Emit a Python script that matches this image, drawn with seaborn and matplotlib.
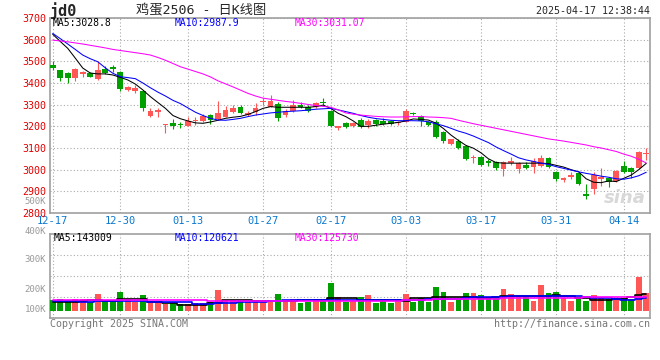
import matplotlib
matplotlib.use("Agg")
import matplotlib.pyplot as plt
import numpy as np
import pandas as pd
import seaborn as sns

# ---------------- data ----------------
tick_idx = [0, 9, 18, 28, 37, 47, 57, 67, 76]
tick_lbl = ["12-17", "12-30", "01-13", "01-27", "02-17", "03-03", "03-17", "03-31", "04-14"]

opens = [3483, 3460, 3448, 3422, 3443, 3448, 3417, 3465, 3475, 3452,
         3368, 3365, 3364, 3248, 3266, 3205, 3217, 3212, 3202, 3224,
         3226, 3250, 3233, 3245, 3268, 3290, 3252, 3265, 3312, 3291,
         3303, 3252, 3272, 3298, 3291, 3288, 3314, 3272, 3194, 3214,
         3202, 3229, 3206, 3229, 3226, 3224, 3215, 3221, 3263, 3248,
         3221, 3221, 3175, 3118, 3134, 3109, 3053, 3060, 3041, 3037,
         3003, 3032, 3003, 3023, 3011, 3017, 3055, 2991, 2952, 2965,
         2984, 2884, 2910, 2958, 2963, 2949, 3017, 3007, 3008, 3073]
closes = [3471, 3422, 3422, 3465, 3446, 3429, 3460, 3445, 3465, 3371,
          3383, 3378, 3283, 3272, 3275, 3208, 3202, 3205, 3226, 3228,
          3248, 3228, 3263, 3276, 3283, 3263, 3260, 3283, 3316, 3318,
          3238, 3272, 3298, 3291, 3272, 3306, 3306, 3202, 3197, 3196,
          3217, 3196, 3226, 3211, 3211, 3211, 3217, 3272, 3256, 3226,
          3206, 3152, 3134, 3140, 3099, 3049, 3055, 3023, 3030, 3007,
          3034, 3040, 3030, 3009, 3040, 3055, 3014, 2956, 2963, 2975,
          2934, 2880, 2975, 2960, 2944, 2995, 2991, 2991, 3080, 3076]
highs = [3502, 3462, 3450, 3468, 3455, 3452, 3502, 3477, 3482, 3457,
         3387, 3392, 3366, 3283, 3283, 3211, 3232, 3222, 3242, 3245,
         3255, 3255, 3317, 3294, 3300, 3298, 3270, 3309, 3330, 3345,
         3310, 3280, 3321, 3314, 3298, 3312, 3329, 3275, 3203, 3220,
         3222, 3240, 3233, 3236, 3240, 3228, 3226, 3279, 3267, 3250,
         3224, 3228, 3178, 3142, 3140, 3113, 3067, 3064, 3050, 3040,
         3040, 3060, 3035, 3034, 3052, 3067, 3058, 2995, 2968, 2990,
         2986, 2935, 2990, 3006, 2968, 3000, 3041, 3012, 3085, 3099]
lows = [3460, 3411, 3401, 3411, 3426, 3426, 3415, 3440, 3451, 3364,
        3362, 3355, 3272, 3242, 3245, 3168, 3186, 3191, 3200, 3206,
        3222, 3212, 3230, 3242, 3262, 3257, 3248, 3254, 3300, 3288,
        3226, 3245, 3268, 3283, 3265, 3283, 3298, 3196, 3183, 3190,
        3198, 3190, 3190, 3202, 3206, 3206, 3204, 3218, 3250, 3202,
        3200, 3148, 3125, 3115, 3097, 3046, 3032, 3016, 3018, 3000,
        2970, 3022, 2984, 3005, 2986, 3014, 3006, 2947, 2945, 2958,
        2928, 2866, 2888, 2925, 2919, 2944, 2984, 2960, 3005, 3044]

ma5 = [3625, 3592, 3560, 3515, 3469, 3446, 3442, 3442, 3437, 3426,
       3414, 3395, 3368, 3337, 3310, 3283, 3250, 3235, 3225, 3216,
       3214, 3220, 3228, 3237, 3242, 3246, 3255, 3268, 3283, 3291,
       3288, 3288, 3288, 3288, 3288, 3291, 3298, 3283, 3260, 3245,
       3225, 3200, 3200, 3205, 3210, 3214, 3218, 3225, 3234, 3232,
       3229, 3215, 3190, 3160, 3135, 3112, 3099, 3078, 3050, 3033,
       3030, 3030, 3030, 3030, 3030, 3030, 3028, 3020, 3012, 3000,
       2990, 2958, 2942, 2940, 2948, 2945, 2960, 2975, 3000, 3029]
ma10 = [3629, 3605, 3580, 3555, 3529, 3512, 3498, 3470, 3445, 3429,
        3425, 3420, 3400, 3378, 3358, 3340, 3320, 3305, 3285, 3265,
        3250, 3237, 3229, 3228, 3232, 3237, 3245, 3252, 3257, 3262,
        3265, 3268, 3270, 3272, 3275, 3279, 3281, 3283, 3276, 3268,
        3260, 3250, 3242, 3236, 3232, 3228, 3226, 3226, 3226, 3225,
        3221, 3212, 3203, 3191, 3178, 3168, 3155, 3140, 3125, 3105,
        3088, 3072, 3055, 3045, 3038, 3030, 3024, 3014, 3006, 2998,
        2990, 2983, 2977, 2970, 2965, 2958, 2956, 2962, 2972, 2988]
ma30 = [3598, 3594, 3590, 3585, 3580, 3574, 3568, 3562, 3555, 3550,
        3545, 3540, 3535, 3529, 3518, 3505, 3490, 3475, 3464, 3453,
        3442, 3428, 3410, 3396, 3382, 3367, 3352, 3340, 3330, 3325,
        3320, 3315, 3311, 3306, 3301, 3296, 3292, 3288, 3276, 3262,
        3256, 3252, 3249, 3246, 3244, 3243, 3243, 3244, 3245, 3245,
        3243, 3242, 3240, 3237, 3228, 3220, 3212, 3205, 3198, 3191,
        3184, 3177, 3170, 3163, 3156, 3149, 3142, 3137, 3132, 3126,
        3120, 3114, 3106, 3100, 3092, 3084, 3072, 3062, 3048, 3031]

# volume, thousands of lots
vol = [108, 114, 108, 114, 114, 98, 143, 103, 103, 156,
       114, 98, 137, 98, 98, 85, 93, 85, 85, 89,
       89, 98, 166, 108, 108, 104, 98, 108, 98, 98,
       143, 104, 114, 93, 98, 114, 108, 208, 124, 98,
       104, 124, 137, 93, 112, 93, 112, 143, 98, 118,
       98, 185, 156, 98, 108, 150, 150, 137, 124, 124,
       171, 143, 131, 131, 104, 194, 150, 156, 118, 104,
       124, 104, 137, 118, 112, 112, 118, 112, 242, 150]
vol_ma5 = [98, 98, 98, 98, 102, 108, 108, 102, 102, 112,
           112, 114, 114, 98, 98, 89, 89, 80, 80, 80,
           80, 93, 93, 108, 108, 108, 108, 102, 102, 102,
           102, 102, 102, 108, 108, 108, 108, 121, 121, 121,
           121, 108, 108, 108, 108, 108, 108, 102, 121, 121,
           121, 124, 124, 124, 124, 124, 124, 121, 121, 124,
           131, 131, 131, 131, 131, 131, 131, 137, 131, 131,
           118, 118, 108, 108, 108, 114, 114, 124, 137, 143]
vol_ma10 = [100, 100, 100, 100, 98, 98, 100, 100, 100, 100,
            100, 100, 100, 98, 98, 98, 98, 98, 95, 87,
            87, 87, 93, 93, 93, 98, 98, 98, 98, 102,
            102, 108, 108, 108, 108, 108, 108, 108, 106, 106,
            106, 106, 106, 106, 108, 108, 108, 108, 108, 110,
            112, 112, 112, 112, 112, 118, 124, 124, 124, 124,
            128, 131, 131, 131, 131, 131, 131, 131, 131, 131,
            131, 124, 118, 118, 118, 114, 108, 108, 115, 121]
vol_ma30 = [108, 108, 108, 108, 108, 108, 108, 108, 108, 108,
            108, 106, 106, 106, 106, 106, 106, 106, 106, 106,
            106, 105, 105, 105, 105, 105, 105, 105, 105, 105,
            105, 105, 105, 105, 105, 105, 105, 104, 104, 104,
            104, 104, 104, 104, 104, 104, 104, 108, 108, 108,
            108, 112, 112, 112, 112, 112, 112, 112, 112, 112,
            118, 118, 118, 118, 118, 118, 118, 118, 118, 122,
            122, 123, 123, 124, 124, 124, 125, 125, 126, 126]

price_ma_text = ["MA5:3028.8", "MA10:2987.9", "MA30:3031.07"]
vol_ma_text = ["MA5:143009", "MA10:120621", "MA30:125730"]
vol_axis_lbl = ["500K", "400K", "300K", "200K", "100K"]

# ---------------- style ----------------
RED = "#ff5656"
GREEN = "#00a000"
MA_COLORS = ["#000000", "#0000ff", "#ff00ff"]
GRID = "#aaaaaa"
W, H = 660, 360

sns.set_style("white")
plt.rcParams["font.family"] = ["DejaVu Sans Mono", "Noto Sans CJK SC"]

df = pd.DataFrame({"day": np.arange(len(opens)), "open": opens, "close": closes,
                   "high": highs, "low": lows, "ma5": ma5, "ma10": ma10, "ma30": ma30,
                   "vol": np.array(vol) * 1000, "vma5": np.array(vol_ma5) * 1000,
                   "vma10": np.array(vol_ma10) * 1000, "vma30": np.array(vol_ma30) * 1000})
df["color"] = np.where(df["close"] >= df["open"], RED, GREEN)

fig = plt.figure(figsize=(W / 100, H / 100), dpi=100)
ax = fig.add_axes([50 / W, 147 / H, 600 / W, 195 / H])
axv = fig.add_axes([50 / W, 42 / H, 600 / W, 84 / H])

# ---- price panel ----
ax.vlines(df["day"], df["low"], df["high"], colors=df["color"], lw=0.8, zorder=3)
body = (df["close"] - df["open"]).abs().clip(lower=6)
ax.bar(df["day"], body, bottom=df[["open", "close"]].min(axis=1), width=0.76,
       color=df["color"], lw=0, zorder=4)
for col, c in zip(["ma5", "ma10", "ma30"], MA_COLORS):
    sns.lineplot(data=df, x="day", y=col, ax=ax, color=c, lw=0.75, zorder=5)

ax.set_xlim(-0.36, 79.5)
ax.set_ylim(2800, 3700)
ax.set_yticks(range(2800, 3701, 100))
ax.set_xticks(tick_idx)
ax.set_xticklabels(tick_lbl)
ax.set_xlabel("")
ax.set_ylabel("")
ax.tick_params(axis="y", length=0, pad=3, labelsize=7.2, labelcolor="#e00000")
ax.tick_params(axis="x", length=0, pad=2.5, labelsize=7.5, labelcolor="#0a78d0")
ax.grid(True, ls=(0, (1, 2)), color=GRID, lw=0.8)

# ---- volume panel ----
base = 45000
axv.bar(df["day"], df["vol"] - base, bottom=base, width=0.76, color=df["color"], lw=0, zorder=3)
for col, c in zip(["vma5", "vma10", "vma30"], MA_COLORS):
    sns.lineplot(data=df, x="day", y=col, ax=axv, color=c, lw=1.2, zorder=4,
                 drawstyle="steps-mid")
axv.set_xlim(-0.36, 79.5)
vlo, vhi = 4800, 487500
axv.set_ylim(vlo, vhi)
axv.set_yticks(np.linspace(vlo, vhi, 5)[1:-1])
axv.set_yticklabels([])
axv.set_xticks(tick_idx)
axv.set_xticklabels([])
axv.set_xlabel("")
axv.set_ylabel("")
axv.tick_params(length=0)
axv.grid(True, ls=(0, (1, 2)), color=GRID, lw=0.8)

for a in (ax, axv):
    a.set_axisbelow(True)
    for s in a.spines.values():
        s.set_color("#a0a0a0")
        s.set_linewidth(1.2)

# ---- texts ----
def px(x, y):
    return x / W, 1 - y / H

fig.text(*px(50, 11), "jd0", fontsize=11, fontweight="bold", va="center")
fig.text(*px(201, 11), "鸡蛋2506 - 日K线图", fontsize=9.5, va="center", ha="center")
fig.text(*px(650, 11), "2025-04-17 12:38:44", fontsize=7.2, va="center", ha="right")

for txt, x, c in zip(price_ma_text, [53, 175, 295], MA_COLORS):
    fig.text(*px(x, 23), txt, fontsize=7, color=c, va="center")
for txt, x, c in zip(vol_ma_text, [54, 175, 295], MA_COLORS):
    fig.text(*px(x, 238), txt, fontsize=7, color=c, va="center")
for txt, y in zip(vol_axis_lbl, [201, 231, 260, 290, 310]):
    fig.text(*px(46, y), txt, fontsize=6.5, color="#999999", va="center", ha="right")

fig.text(*px(50, 324), "Copyright 2025 SINA.COM", fontsize=7.2, color="#777777", va="center")
fig.text(*px(650, 324), "http://finance.sina.com.cn", fontsize=7.2, color="#777777",
         va="center", ha="right")
fig.text(*px(625, 198), "sina", fontsize=13, color="#d8d8d8", fontstyle="italic",
         fontweight="bold", family="DejaVu Sans", va="center", ha="center")

fig.savefig("out.png", dpi=100)
